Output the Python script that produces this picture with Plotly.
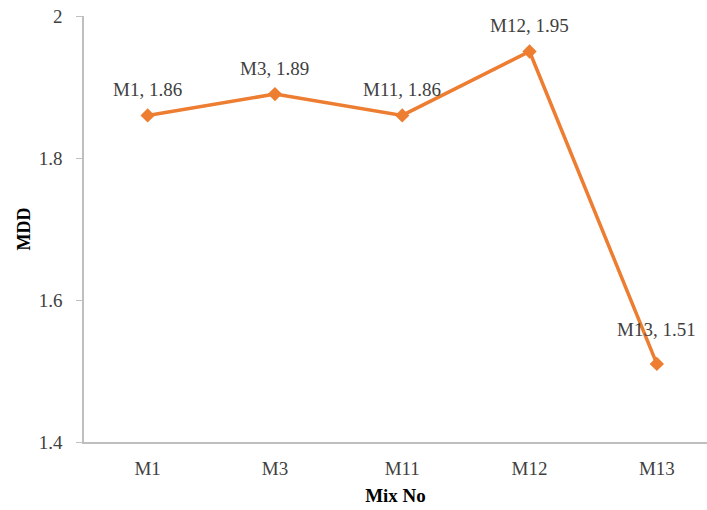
import plotly.graph_objects as go

mixes = ["M1", "M3", "M11", "M12", "M13"]
mdd = [1.86, 1.89, 1.86, 1.95, 1.51]
label_shift = [26, 26, 26, 26, 34]

ORANGE = "#ED7D31"
FONT = "Liberation Serif"

fig = go.Figure()
fig.add_trace(go.Scatter(
    x=mixes, y=mdd, mode="lines+markers",
    line=dict(color=ORANGE, width=3.5),
    marker=dict(symbol="diamond", size=11, color=ORANGE),
    showlegend=False, hoverinfo="skip",
))
for m, v, s in zip(mixes, mdd, label_shift):
    fig.add_annotation(x=m, y=v, text=f"{m}, {v:.2f}", showarrow=False,
                       yshift=s, font=dict(family=FONT, size=19, color="#404040"))

fig.update_layout(
    width=707, height=510,
    margin=dict(l=84, r=0, t=16, b=68),
    plot_bgcolor="white", paper_bgcolor="white",
    font=dict(family=FONT, size=19, color="#404040"),
    xaxis=dict(
        type="category", range=[-0.5, 4.394],
        showline=True, linecolor="#BFBFBF", linewidth=1.5,
        showgrid=False, ticks="", zeroline=False,
        ticklabelstandoff=8,
        tickfont=dict(family=FONT, size=19, color="#404040"),
        title=dict(text="<b>Mix No</b>", font=dict(family=FONT, size=19, color="#000000"), standoff=11),
    ),
    yaxis=dict(
        range=[1.4, 2.0], tickvals=[1.4, 1.6, 1.8, 2.0], ticktext=["1.4", "1.6", "1.8", "2"],
        showline=True, linecolor="#BFBFBF", linewidth=1.5,
        showgrid=False, zeroline=False,
        ticks="outside", ticklen=6, tickcolor="#BFBFBF",
        ticklabelstandoff=10,
        tickfont=dict(family=FONT, size=19, color="#404040"),
        title=dict(text="<b>MDD</b>", font=dict(family=FONT, size=18, color="#000000"), standoff=3),
    ),
)
fig.write_html("out.html")
